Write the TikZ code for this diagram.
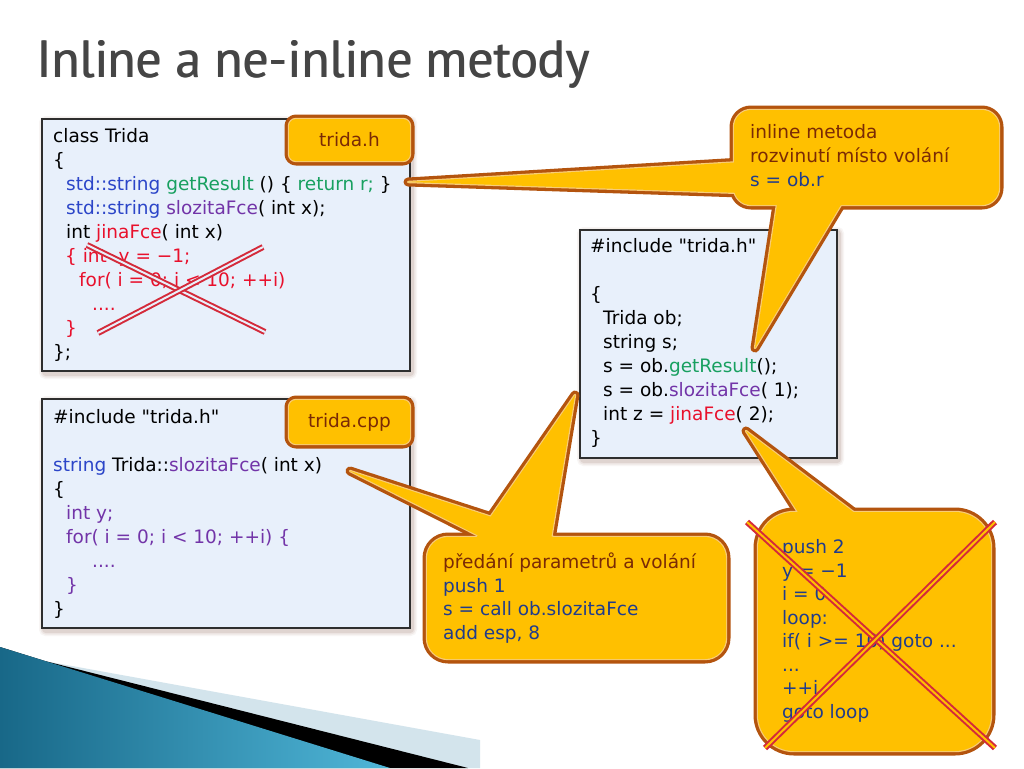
\documentclass[tikz,border=0pt]{standalone}
\usepackage{fontspec}
\usepackage{graphicx}
\setmainfont{PT Sans}
\newfontfamily\cf{DejaVu Sans}
\definecolor{boxfill}{HTML}{E8F0FB}
\definecolor{boxline}{HTML}{2E2E2E}
\definecolor{shadowc}{HTML}{8A6252}
\definecolor{cblue}{HTML}{2B45C8}
\definecolor{cgreen}{HTML}{18A060}
\definecolor{cpurple}{HTML}{7234A8}
\definecolor{cred}{HTML}{E8102C}
\definecolor{cdblue}{HTML}{203C8C}
\definecolor{cbrownt}{HTML}{7A2A06}
\definecolor{cgold}{HTML}{FFC000}
\definecolor{cbrd}{HTML}{B4540E}
\definecolor{clight}{HTML}{F8CC78}
\definecolor{crossc}{HTML}{D42A3A}
\definecolor{titlec}{HTML}{454545}
\definecolor{decoA}{HTML}{186888}
\definecolor{decoB}{HTML}{4FB6D8}
\definecolor{decoL}{HTML}{D3E4EC}
% bubble with one, two or three parts (each part filled separately)
\tikzset{
  bubout/.style={draw=cbrd, line width=9pt, line join=round, fill=cbrd},
  bubmid/.style={draw=clight, line width=2.4pt, line join=round},
  bubin/.style={fill=cgold}}
\newcommand\bubbleA[1]{%
  \path[bubout] #1; \path[bubmid] #1; \path[bubin] #1;}
\newcommand\bubbleB[2]{%
  \path[bubout] #1; \path[bubout] #2;
  \path[bubmid] #1; \path[bubmid] #2;
  \path[bubin] #1; \path[bubin] #2;}
\newcommand\bubbleC[3]{%
  \path[bubout] #1; \path[bubout] #2; \path[bubout] #3;
  \path[bubmid] #1; \path[bubmid] #2; \path[bubmid] #3;
  \path[bubin] #1; \path[bubin] #2; \path[bubin] #3;}
\newcommand\boxshadow[4]{%
  \foreach \w/\o in {10/0.06,7/0.09,4/0.14}{%
    \draw[line width=\w pt, draw=shadowc, opacity=\o, rounded corners=2pt] (#1+2,#2+2) rectangle (#3+2,#4+3);}}
\begin{document}
\begin{tikzpicture}[x=1pt,y=-1pt,
  code/.style={anchor=base west, inner sep=0pt, font=\cf\fontsize{18.5}{18.5}\selectfont},
  codebox/.style={fill=boxfill, draw=boxline, line width=1.4pt},
  tagtext/.style={inner sep=0pt, text=cbrownt, font=\cf\fontsize{18.5}{18.5}\selectfont},
  titletext/.style={anchor=base west, inner sep=0pt, text=titlec},
  crossline/.style={draw=crossc, line width=2pt, double distance=2pt}]
\useasboundingbox (0,0) rectangle (1024,768);
\fill[white] (0,0) rectangle (1024,768);
% bottom-left decoration
\fill[decoL] (50,662) -- (480,740) -- (480,768) -- (440,768) -- cycle;
\fill[black] (0,647) -- (45,661) -- (468,768) -- (0,768) -- cycle;
\shade[left color=decoA, right color=decoB] (0,647) -- (390,768) -- (0,768) -- cycle;
% title (two copies, slightly offset, for a medium weight)
\node[titletext] (title) at (36,77)
  {\resizebox{553pt}{37pt}{Inline a ne-inline metody}};
\node[titletext] (titleb) at (37,77)
  {\resizebox{553pt}{37pt}{Inline a ne-inline metody}};
% code boxes
\boxshadow{42}{119}{410}{371}
\boxshadow{42}{399}{410}{628}
\boxshadow{580}{230}{837}{458}
\path[codebox] (42,119) rectangle (410,371);
\path[codebox] (42,399) rectangle (410,628);
\path[codebox] (580,230) rectangle (837,458);
% box 1 text
\node[code] (b1l1) at (53,142) {class Trida};
\node[code] (b1l2) at (53,166) {\{};
\node[code] (b1l3) at (66,190) {\textcolor{cblue}{std::string} \textcolor{cgreen}{getResult} () \{ \textcolor{cgreen}{return r;} \}};
\node[code] (b1l4) at (66,214) {\textcolor{cblue}{std::string} \textcolor{cpurple}{slozitaFce}( int x);};
\node[code] (b1l5) at (66,238) {int \textcolor{cred}{jinaFce}( int x)};
\node[code, text=cred] (b1l6) at (65,262) {\{ int\ \ y = −1;};
\node[code, text=cred] (b1l7) at (79,286) {for( i = 0; i < 10; ++i)};
\node[code, text=cred] (b1l8) at (92,310) {....};
\node[code, text=cred] (b1l9) at (65,334) {\}};
\node[code] (b1l10) at (53,358) {\};};
% box 2 text
\node[code] (b2l1) at (53,423) {\#include "trida.h"};
\node[code] (b2l2) at (53,471) {\textcolor{cblue}{string} Trida::\textcolor{cpurple}{slozitaFce}( int x)};
\node[code] (b2l3) at (53,495) {\{};
\node[code, text=cpurple] (b2l4) at (66,519) {int y;};
\node[code, text=cpurple] (b2l5) at (66,543) {for( i = 0; i < 10; ++i) \{};
\node[code, text=cpurple] (b2l6) at (92,567) {....};
\node[code, text=cpurple] (b2l7) at (66,591) {\}};
\node[code] (b2l8) at (53,615) {\}};
% box 3 text
\node[code] (b3l1) at (590,252) {\#include "trida.h"};
\node[code] (b3l2) at (590,300) {\{};
\node[code] (b3l3) at (603,324) {Trida ob;};
\node[code] (b3l4) at (603,348) {string s;};
\node[code] (b3l5) at (603,372) {s = ob.\textcolor{cgreen}{getResult}();};
\node[code] (b3l6) at (603,396) {s = ob.\textcolor{cpurple}{slozitaFce}( 1);};
\node[code] (b3l7) at (603,420) {int z = \textcolor{cred}{jinaFce}( 2);};
\node[code] (b3l8) at (590,444) {\}};
% cross over inline body
\draw[crossline, double=boxfill] (87,245) -- (265,332);
\draw[crossline, double=boxfill] (98,333) -- (263,247);
% file tags
\bubbleA{[rounded corners=7pt] (289,119) rectangle (410,161)}
\node[tagtext] (tagh) at (349.5,140) {trida.h};
\bubbleA{[rounded corners=7pt] (289,400) rectangle (410,444)}
\node[tagtext] (tagcpp) at (349.5,422) {trida.cpp};
% callout 1
\bubbleC{[rounded corners=17pt] (734,110) rectangle (999,205)}
  {(408,182) -- (742,162) -- (742,193) -- cycle}
  {(755,348) -- (778,198) -- (845,198) -- cycle}
\node[code, text=cbrownt] (c1l1) at (750,138) {inline metoda};
\node[code, text=cbrownt] (c1l2) at (750,162) {rozvinutí místo volání};
\node[code, text=cdblue] (c1l3) at (750,186) {s = ob.r};
% callout 2
\bubbleC{[rounded corners=21pt] (427,537) rectangle (726,659)}
  {(350,471) -- (497,545) -- (578,545) -- cycle}
  {(575,395) -- (471,545) -- (550,545) -- cycle}
\node[code, text=cbrownt] (c2l1) at (443,568) {předání parametrů a volání};
\node[code, text=cdblue] (c2l2) at (443,592) {push 1};
\node[code, text=cdblue] (c2l3) at (443,615) {s = call ob.slozitaFce};
\node[code, text=cdblue] (c2l4) at (443,639) {add esp, 8};
% callout 3
\bubbleB{[rounded corners=36pt] (758,512) rectangle (991,751)}
  {(746,431) -- (803,520) -- (864,520) -- cycle}
\node[code, text=cdblue] (c3l1) at (782,553) {push 2};
\node[code, text=cdblue] (c3l2) at (782,577) {y = −1};
\node[code, text=cdblue] (c3l3) at (782,600) {i = 0};
\node[code, text=cdblue] (c3l4) at (782,624) {loop:};
\node[code, text=cdblue] (c3l5) at (782,647) {if( i >= 10) goto ...};
\node[code, text=cdblue] (c3l6) at (782,671) {...};
\node[code, text=cdblue] (c3l7) at (782,694) {++i};
\node[code, text=cdblue] (c3l8) at (782,718) {goto loop};
% cross over assembly
\draw[crossline, double=cgold] (747,522) -- (995,748);
\draw[crossline, double=cgold] (765,748) -- (995,522);
\end{tikzpicture}
\end{document}
